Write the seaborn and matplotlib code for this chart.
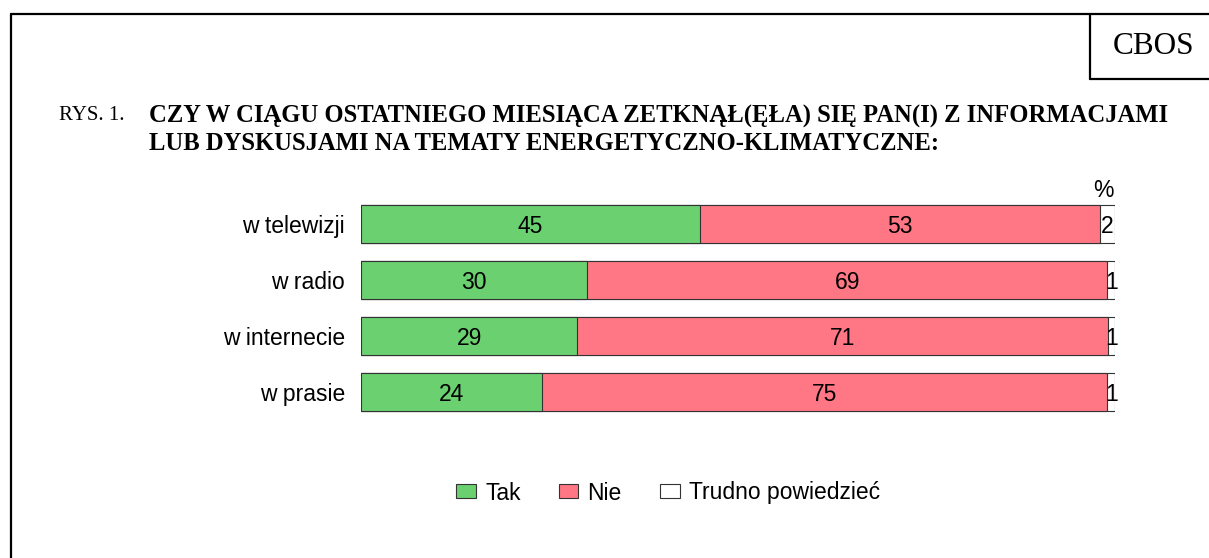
import matplotlib
matplotlib.use("Agg")
import matplotlib.pyplot as plt
from matplotlib.patches import Patch
from matplotlib.lines import Line2D
import seaborn as sns
import pandas as pd
import numpy as np

# ========== dane ==========
kategorie = ['w telewizji', 'w radio', 'w internecie', 'w prasie']
tak = [45, 30, 29, 24]
nie = [53, 69, 71, 75]
trudno = [2, 1, 1, 1]
serie = ['Tak', 'Nie', 'Trudno powiedzieć']
kolory = ['#6AD070', '#FF7785', '#FFFFFF']

df = pd.DataFrame({'kategoria': kategorie, 'Tak': tak, 'Nie': nie, 'Trudno powiedzieć': trudno})
# słupki 100% - normalizacja do sumy wiersza (np. 29+71+1 = 101)
suma = df[serie].sum(axis=1)
cum = df[serie].cumsum(axis=1).div(suma, axis=0) * 100
starts = cum.shift(1, axis=1).fillna(0)

sns.set_style('white')
plt.rcParams['font.family'] = ['Liberation Sans', 'DejaVu Sans']
plt.rcParams['text.color'] = 'black'
fs = 16.5

fig = plt.figure(figsize=(12.09, 5.58), dpi=100)
ax = fig.add_axes([361 / 1209, 1 - 420 / 558, 754 / 1209, 224 / 558])

# słupki skumulowane: od największej sumy do najmniejszej, każdy przykrywa poprzedni
for s, c in reversed(list(zip(serie, kolory))):
    sns.barplot(x=cum[s], y=df['kategoria'], orient='h', color=c, width=0.68,
                edgecolor='#333333', linewidth=0.8, saturation=1, ax=ax)

# etykiety wartości
for i in range(len(df)):
    for s in serie:
        v = df.loc[i, s]
        xc = (starts.loc[i, s] + cum.loc[i, s]) / 2
        ax.text(xc, i, f'{v}', ha='center', va='center_baseline', fontsize=fs, color='black')

ax.set_xlim(0, 100)
ax.set_ylim(3.5, -0.5)
ax.set_xlabel('')
ax.set_ylabel('')
ax.set_xticks([])
ax.tick_params(axis='y', length=0, pad=11.5, labelsize=fs, labelcolor='black')
for sp in ax.spines.values():
    sp.set_visible(False)
ax.text(99.8, -0.40, '%', ha='right', va='bottom', fontsize=fs)

# legenda
handles = [Patch(facecolor=c, edgecolor='#333333', linewidth=0.8) for c in kolory]
fig.legend(handles, serie, loc='center', bbox_to_anchor=(668 / 1209, 1 - 493 / 558),
           ncol=3, frameon=False, fontsize=fs, handlelength=0.87, handleheight=0.57,
           handletextpad=0.4, columnspacing=1.65)

# tytuł
serif = 'Liberation Serif'
fig.text(59 / 1209, 1 - 116 / 558, 'RYS. 1.', family=serif, fontsize=15,
         va='center', ha='left')
fig.text(149 / 1209, 1 - 116 / 558,
         'CZY W CIĄGU OSTATNIEGO MIESIĄCA ZETKNĄŁ(ĘŁA) SIĘ PAN(I) Z INFORMACJAMI',
         family=serif, fontweight='bold', fontsize=17.7, va='center', ha='left')
fig.text(149 / 1209, 1 - 144 / 558,
         'LUB DYSKUSJAMI NA TEMATY ENERGETYCZNO-KLIMATYCZNE:',
         family=serif, fontweight='bold', fontsize=17.7, va='center', ha='left')
fig.text(1154 / 1209, 1 - 46 / 558, 'CBOS', family=serif, fontsize=22.5,
         va='center', ha='center')

# ramki
lw = 1.6
fig.add_artist(Line2D([11 / 1209, 1], [1 - 14 / 558] * 2, color='black', lw=lw))
fig.add_artist(Line2D([11 / 1209] * 2, [0, 1 - 14 / 558], color='black', lw=lw))
fig.add_artist(Line2D([1090 / 1209] * 2, [1 - 79 / 558, 1 - 14 / 558], color='black', lw=lw))
fig.add_artist(Line2D([1090 / 1209, 1], [1 - 79 / 558] * 2, color='black', lw=lw))

fig.savefig('out.png', dpi=100)
